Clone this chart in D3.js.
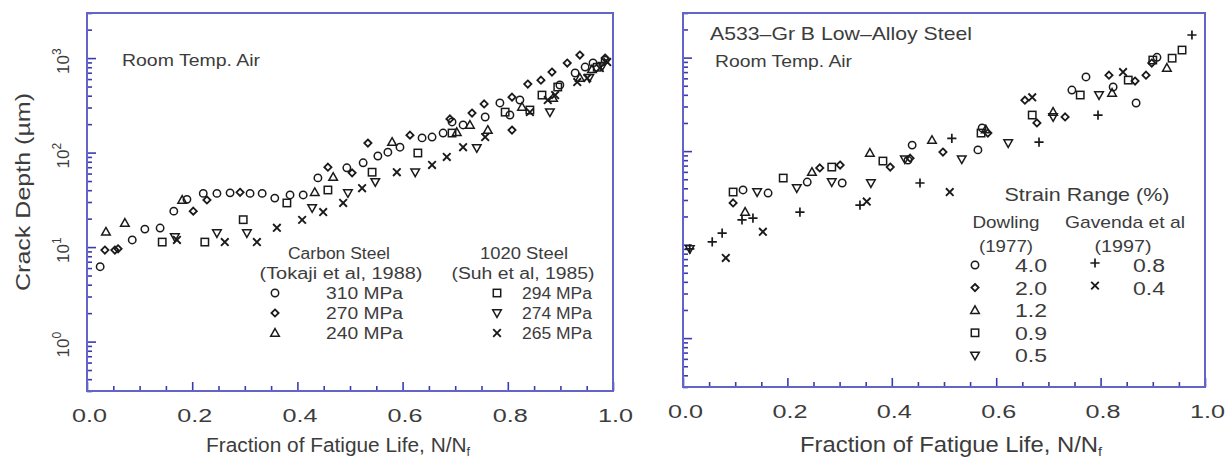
<!DOCTYPE html>
<html><head><meta charset="utf-8">
<script src="https://cdn.jsdelivr.net/npm/d3@7"></script>
<style>
body{margin:0;background:#fff}
svg{display:block}
text{font-family:"Liberation Sans",Arial,Helvetica,sans-serif;fill:#3c3c3c}
</style>
</head><body>
<svg id="c" width="1228" height="459"></svg>
<script>
// ---------------- data ----------------
const xMajorTicks = [0, 0.2, 0.4, 0.6, 0.8, 1.0];
const xTickLabels = ["0.0", "0.2", "0.4", "0.6", "0.8", "1.0"];
const yDecades = [1, 10, 100, 1000];
const yDecadeExponents = ["0", "1", "2", "3"];

// Left panel: [fraction of life N/Nf, crack depth µm]
const carbon310 = [[0.025,6.2],[0.086,11.9],[0.110,15.5],[0.139,15.9],[0.165,24],[0.190,32],[0.221,37],[0.247,37],[0.272,37.5],[0.310,37],[0.333,37],[0.357,33],[0.386,35.6],[0.411,35.6],[0.439,54],[0.494,69],[0.525,78],[0.553,92],[0.572,101],[0.595,114],[0.637,143],[0.656,146],[0.677,161],[0.694,211],[0.715,196],[0.757,238],[0.785,335],[0.804,250],[0.823,360],[0.899,519],[0.928,695],[0.947,804],[0.962,887],[0.985,950]];
const carbon270 = [[0.034,9.3],[0.053,9.3],[0.059,9.6],[0.202,24],[0.228,31.5],[0.291,38],[0.458,70],[0.504,61],[0.534,126],[0.614,153],[0.690,227],[0.732,262],[0.755,327],[0.808,173],[0.808,386],[0.838,531],[0.863,584],[0.884,712],[0.913,887],[0.937,1078],[0.985,1000]];
const carbon240 = [[0.036,14.5],[0.072,18],[0.181,31.5],[0.433,38],[0.468,55],[0.580,129],[0.703,164],[0.728,196],[0.762,173],[0.827,304],[0.886,377],[0.937,615],[0.960,760]];
const suh294 = [[0.143,11.3],[0.224,11.3],[0.297,19.5],[0.380,29.3],[0.458,40.2],[0.542,62],[0.629,99],[0.694,161],[0.795,268],[0.842,282],[0.865,406],[0.895,494],[0.970,800]];
const suh274 = [[0.167,12.8],[0.247,14.1],[0.304,14.1],[0.428,26],[0.496,37.4],[0.548,49],[0.624,62],[0.741,112],[0.880,268],[0.955,620],[0.980,830]];
const suh265 = [[0.171,11.9],[0.262,11.3],[0.323,11.3],[0.361,16],[0.409,19.4],[0.449,23.5],[0.487,29.3],[0.523,42],[0.589,62],[0.656,74],[0.684,90],[0.715,114],[0.757,146],[0.842,268],[0.876,360],[0.890,406],[0.932,558],[0.951,615],[0.975,785],[0.989,908]];

// Right panel
const dowling40 = [[0.115,38.4],[0.163,35.6],[0.238,46.7],[0.305,45.6],[0.431,80],[0.439,116],[0.565,103],[0.573,177],[0.745,450],[0.772,621],[0.824,485],[0.868,327],[0.908,1008]];
const dowling20 = [[0.096,27.9],[0.262,66],[0.301,71],[0.397,67.5],[0.435,84],[0.498,97.7],[0.584,156],[0.655,350],[0.678,200],[0.732,232],[0.816,649],[0.866,562],[0.887,649],[0.898,875]];
const dowling12 = [[0.119,22.3],[0.247,59.7],[0.358,95.4],[0.477,131],[0.580,170],[0.709,262],[0.822,418],[0.927,774]];
const dowling09 = [[0.096,36.5],[0.192,51.5],[0.285,67.5],[0.383,78.3],[0.571,156],[0.669,243],[0.761,398],[0.853,575],[0.900,942],[0.937,986],[0.956,1205]];
const dowling05 = [[0.013,9],[0.142,36.5],[0.218,40.3],[0.285,46.7],[0.360,45.6],[0.425,82],[0.534,82],[0.623,122],[0.709,232],[0.797,398]];
const gavenda08 = [[0.013,9],[0.056,10.7],[0.075,13.3],[0.113,18.4],[0.134,19.2],[0.224,22.3],[0.339,26.5],[0.454,45.6],[0.515,137],[0.682,125],[0.795,243],[0.975,1746]];
const gavenda04 = [[0.082,7.2],[0.153,13.7],[0.352,28.9],[0.511,36.5],[0.669,376],[0.843,701]];

const leftSeries = [
  {data: carbon310, m: "circle", label: "310 MPa"},
  {data: carbon270, m: "diamond", label: "270 MPa"},
  {data: carbon240, m: "triangle", label: "240 MPa"},
  {data: suh294, m: "square", label: "294 MPa"},
  {data: suh274, m: "triDown", label: "274 MPa"},
  {data: suh265, m: "cross", label: "265 MPa"}
];
const rightSeries = [
  {data: dowling40, m: "circle", label: "4.0"},
  {data: dowling20, m: "diamond", label: "2.0"},
  {data: dowling12, m: "triangle", label: "1.2"},
  {data: dowling09, m: "square", label: "0.9"},
  {data: dowling05, m: "triDown", label: "0.5"},
  {data: gavenda08, m: "plus", label: "0.8"},
  {data: gavenda04, m: "cross", label: "0.4"}
];

// ---------------- drawing ----------------
const svg = d3.select("#c");
const frameColor = "#6464c8";
const tickColor = "#3a3ab4";
const markColor = "#1a1a1a";

function drawMarker(g, type, x, y) {
  const s = g.append("g").attr("transform", `translate(${x},${y})`)
    .attr("fill", "none").attr("stroke", markColor).attr("stroke-width", 1.5);
  switch (type) {
    case "circle": s.append("circle").attr("r", 3.7); break;
    case "square": s.append("rect").attr("x", -3.7).attr("y", -3.7).attr("width", 7.4).attr("height", 7.4); break;
    case "triangle": s.append("path").attr("d", "M0,-4.4L4.3,3.2L-4.3,3.2Z"); break;
    case "triDown": s.append("path").attr("d", "M0,4.4L4.3,-3.2L-4.3,-3.2Z"); break;
    case "diamond": s.append("path").attr("d", "M0,-3.6L3.6,0L0,3.6L-3.6,0Z").attr("stroke-width", 1.8); break;
    case "plus": s.append("path").attr("d", "M-4.6,0H4.6M0,-4.6V4.6").attr("stroke-width", 1.7); break;
    case "cross": s.append("path").attr("d", "M-3.8,-3.8L3.8,3.8M-3.8,3.8L3.8,-3.8").attr("stroke-width", 1.9); break;
  }
}

function panel(p) {
  const x = d3.scaleLinear().domain([0, 1]).range([p.x0, p.x1]);
  const y = d3.scaleLog().domain([0.3, 3000]).range([p.y1, p.y0]);
  const g = svg.append("g");

  const minorX = d3.range(0, 1.0001, 0.05).filter(v => Math.abs(v / 0.2 - Math.round(v / 0.2)) > 1e-6);
  const styleAxis = sel => {
    sel.select(".domain").remove();
    sel.selectAll(".tick line").attr("stroke", tickColor).attr("stroke-width", 1.6);
    sel.selectAll(".tick text").remove();
  };
  g.append("g").attr("transform", `translate(0,${p.y1})`)
    .call(d3.axisBottom(x).tickValues(xMajorTicks).tickSize(-9).tickFormat(() => "")).call(styleAxis);
  g.append("g").attr("transform", `translate(0,${p.y1})`)
    .call(d3.axisBottom(x).tickValues(minorX).tickSize(-5).tickFormat(() => "")).call(styleAxis);
  const allY = y.ticks();
  const minorY = allY.filter(v => !yDecades.includes(v));
  g.append("g").attr("transform", `translate(${p.x0},0)`)
    .call(d3.axisLeft(y).tickValues(yDecades).tickSize(-9).tickFormat(() => "")).call(styleAxis);
  g.append("g").attr("transform", `translate(${p.x0},0)`)
    .call(d3.axisLeft(y).tickValues(minorY).tickSize(-5).tickFormat(() => "")).call(styleAxis);

  g.append("rect").attr("x", p.x0).attr("y", p.y0).attr("width", p.x1 - p.x0).attr("height", p.y1 - p.y0)
    .attr("fill", "none").attr("stroke", frameColor).attr("stroke-width", 2);

  xMajorTicks.forEach((v, i) => {
    g.append("text").attr("x", x(v) + 2.5).attr("y", p.y1 + 31).attr("text-anchor", "middle")
      .attr("font-size", 18).attr("textLength", 35).attr("lengthAdjust", "spacingAndGlyphs")
      .text(xTickLabels[i]);
  });

  const xt = g.append("text").attr("x", p.titleX).attr("y", 452).attr("text-anchor", "middle")
    .attr("font-size", p.titleSize).attr("textLength", p.titleLen).attr("lengthAdjust", "spacingAndGlyphs");
  xt.append("tspan").text("Fraction of Fatigue Life, N/N");
  xt.append("tspan").attr("font-size", p.titleSize * 0.6).attr("dy", 4).text("f");

  p.series.forEach(s => s.data.forEach(d => drawMarker(g, s.m, x(d[0]), y(d[1]))));
  return {x, y, g};
}

// Left panel
const L = panel({x0: 87, x1: 613, y0: 13, y1: 391, series: leftSeries, titleX: 338, titleSize: 20, titleLen: 264});
yDecades.forEach((v, i) => {
  const t = svg.append("text").attr("transform", `translate(69,${L.y(v) + 3}) rotate(-90)`)
    .attr("text-anchor", "middle").attr("font-size", 17);
  t.append("tspan").text("10");
  t.append("tspan").attr("font-size", 12).attr("dy", -8).text(yDecadeExponents[i]);
});
svg.append("text").attr("transform", "translate(30,192) rotate(-90)").attr("text-anchor", "middle")
  .attr("font-size", 20).attr("textLength", 198).attr("lengthAdjust", "spacingAndGlyphs").text("Crack Depth (\u00b5m)");
svg.append("text").attr("x", 122).attr("y", 66).attr("font-size", 16).attr("textLength", 138)
  .attr("lengthAdjust", "spacingAndGlyphs").text("Room Temp. Air");

// Left legend
[["Carbon Steel", 339, 259, 102], ["(Tokaji et al, 1988)", 341, 279, 163],
 ["1020 Steel", 524, 259, 88], ["(Suh et al, 1985)", 523, 279, 143]].forEach(a => {
  svg.append("text").attr("x", a[1]).attr("y", a[2]).attr("text-anchor", "middle").attr("font-size", 16)
    .attr("textLength", a[3]).attr("lengthAdjust", "spacingAndGlyphs").text(a[0]);
});
leftSeries.forEach((s, i) => {
  const col = i < 3 ? 0 : 1, row = i % 3;
  const mx = col === 0 ? 275 : 497, tx = col === 0 ? 326 : 522;
  const yy = 293 + row * 20;
  drawMarker(svg, s.m, mx, yy);
  svg.append("text").attr("x", tx).attr("y", yy + 6).attr("font-size", 16)
    .attr("textLength", col === 0 ? 77 : 70).attr("lengthAdjust", "spacingAndGlyphs").text(s.label);
});

// Right panel
const R = panel({x0: 683, x1: 1205, y0: 13, y1: 387, series: rightSeries, titleX: 951, titleSize: 22, titleLen: 302});
svg.append("text").attr("x", 710).attr("y", 40).attr("font-size", 19).attr("textLength", 262)
  .attr("lengthAdjust", "spacingAndGlyphs").text("A533\u2013Gr B Low\u2013Alloy Steel");
svg.append("text").attr("x", 715).attr("y", 67).attr("font-size", 16).attr("textLength", 137)
  .attr("lengthAdjust", "spacingAndGlyphs").text("Room Temp. Air");

// Right legend
[["Strain Range (%)", 1087, 201, 165, 19], ["Dowling", 1006, 228, 67, 17], ["Gavenda et al", 1125, 228, 120, 17],
 ["(1977)", 1006, 252, 54, 17], ["(1997)", 1123, 252, 57, 17]].forEach(a => {
  svg.append("text").attr("x", a[1]).attr("y", a[2]).attr("text-anchor", "middle").attr("font-size", a[4])
    .attr("textLength", a[3]).attr("lengthAdjust", "spacingAndGlyphs").text(a[0]);
});
rightSeries.forEach((s, i) => {
  const col = i < 5 ? 0 : 1, row = i < 5 ? i : i - 5;
  const mx = col === 0 ? 975 : 1095, tx = col === 0 ? 1047 : 1165;
  const yy = 265 + row * 22.6;
  drawMarker(svg, s.m, mx, yy - (col ? 2 : 0));
  svg.append("text").attr("x", tx).attr("y", yy + 7).attr("text-anchor", "end").attr("font-size", 18)
    .attr("textLength", 32).attr("lengthAdjust", "spacingAndGlyphs").text(s.label);
});
</script>
</body></html>
